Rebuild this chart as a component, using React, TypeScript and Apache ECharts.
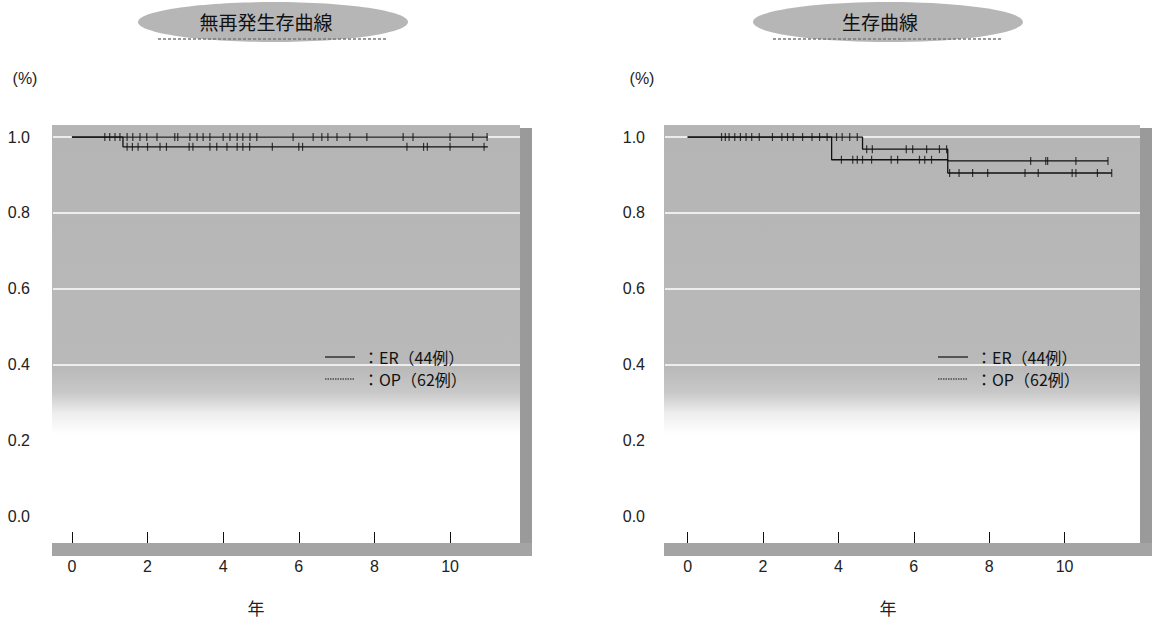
import React, { useEffect, useRef } from "react";
import * as echarts from "echarts";

// ---- data ----
const yearTicks = [0, 2, 4, 6, 8, 10];
const survivalTicks = [0, 0.2, 0.4, 0.6, 0.8, 1.0];
const gridLineValues = [0.2, 0.4, 0.6, 0.8, 1.0];
const panelTitles = ["無再発生存曲線", "生存曲線"];
const legendLabels = ["：ER（44例）", "：OP（62例）"];
const unitLabel = "(%)";
const xAxisName = "年";

// 無再発生存 (relapse-free survival) – step points [year, survival]
const rfsErSteps = [[0, 1.0], [11.0, 1.0]];
const rfsOpSteps = [[0, 1.0], [1.35, 0.974], [11.0, 0.974]];
const rfsErCensor = [0.87, 1.0, 1.14, 1.27, 1.46, 1.61, 1.8, 1.98, 2.25, 2.72, 2.8, 3.12, 3.31, 3.47, 3.65, 4.0, 4.18, 4.37, 4.52, 4.71, 4.89, 5.85, 6.38, 6.61, 6.77, 7.01, 7.35, 7.8, 8.76, 9.02, 10.0, 10.6, 10.98];
const rfsOpCensor = [1.46, 1.6, 1.75, 2.0, 2.33, 2.5, 3.1, 3.2, 3.65, 3.83, 4.1, 4.37, 4.52, 4.7, 5.3, 6.0, 6.1, 8.86, 9.3, 9.4, 10.0, 10.9];

// 生存 (overall survival)
const osErSteps = [[0, 1.0], [4.64, 0.968], [6.9, 0.937], [11.15, 0.937]];
const osOpSteps = [[0, 1.0], [3.82, 0.94], [6.9, 0.905], [11.25, 0.905]];
const osErCensor = [0.9, 1.0, 1.1, 1.25, 1.4, 1.55, 1.7, 1.9, 2.25, 2.5, 2.65, 2.8, 3.05, 3.3, 3.5, 3.7, 3.95, 4.1, 4.3, 4.5, 4.75, 4.9, 5.8, 5.97, 6.34, 6.68, 6.87, 9.1, 9.5, 9.55, 10.3, 11.15];
const osOpCensor = [4.08, 4.38, 4.5, 4.64, 4.88, 5.4, 5.57, 6.15, 6.29, 6.47, 6.95, 7.2, 7.56, 7.96, 8.95, 9.3, 10.2, 10.3, 10.87, 11.25];

// ---- helpers ----
function valueAt(steps: number[][], t: number): number {
  let v = steps[0][1];
  for (const s of steps) {
    if (s[0] <= t) v = s[1];
  }
  return v;
}
function censorPoints(steps: number[][], times: number[]) {
  return times.map((t) => [t, valueAt(steps, t)]);
}

const NUM_FONT = "'Liberation Sans', Arial, sans-serif";
const CJK_FONT = "'Noto Sans CJK JP', 'Liberation Sans', sans-serif";

const panels = [
  { left: 53, xMin: -0.5, xMax: 11.85, right: 520, panelLeft: 52, labelMargin: 23, titleX: 266, blobX: 273, unitX: 25, nameX: 256, legendX: 325,
    er: rfsErSteps, op: rfsOpSteps, erC: rfsErCensor, opC: rfsOpCensor },
  { left: 665, xMin: -0.6, xMax: 12.0, right: 1140, panelLeft: 664, labelMargin: 20, titleX: 880, blobX: 888, unitX: 642, nameX: 888, legendX: 938,
    er: osErSteps, op: osOpSteps, erC: osErCensor, opC: osOpCensor },
];

export default function App() {
  const ref = useRef<HTMLDivElement>(null);
  useEffect(() => {
    document.body.style.margin = "0";
    if (!ref.current) return;
    const chart = echarts.init(ref.current, null, { renderer: "svg" });

    const GRID_TOP = 137;
    const GRID_H = 406; // 1.0 at y=137, 0.0 at y=516, axis at y=543
    const Y_MIN = -27 / 379;

    const grids: any[] = [];
    const xAxes: any[] = [];
    const yAxes: any[] = [];
    const series: any[] = [];
    const graphics: any[] = [];

    panels.forEach((p, i) => {
      grids.push({ left: p.left, top: GRID_TOP, width: p.right - p.left, height: GRID_H, containLabel: false, outerBoundsMode: "none" });
      xAxes.push({
        type: "value", gridIndex: i, min: p.xMin, max: p.xMax,
        axisLine: { show: false, onZero: false },
        axisTick: { show: true, inside: true, length: 11, customValues: yearTicks, lineStyle: { color: "#111", width: 1 } },
        axisLabel: { customValues: yearTicks, margin: 15, fontSize: 16, color: "#222", fontFamily: NUM_FONT },
        splitLine: { show: false },
      });
      yAxes.push({
        type: "value", gridIndex: i, min: Y_MIN, max: 1,
        axisLine: { show: false, onZero: false }, axisTick: { show: false },
        axisLabel: { customValues: survivalTicks, margin: p.labelMargin, fontSize: 16, color: "#222", fontFamily: NUM_FONT, formatter: (v: number) => v.toFixed(1) },
        splitLine: { show: false },
      });
      const stepLine = (name: string, data: number[][], withGrid: boolean) => ({
        type: "line", name, xAxisIndex: i, yAxisIndex: i, data, step: "end", showSymbol: false, symbol: "none",
        lineStyle: { color: "#111", width: 1.3 }, z: 3,
        markLine: withGrid ? {
          silent: true, symbol: "none", label: { show: false }, z: 1,
          lineStyle: { color: "#ffffff", width: 1.5, type: "solid" },
          data: gridLineValues.map((v) => ({ yAxis: v })),
        } : undefined,
      });
      const censor = (name: string, data: number[][]) => ({
        type: "scatter", name, xAxisIndex: i, yAxisIndex: i, data, symbol: "rect", symbolSize: [1.2, 8],
        itemStyle: { color: "#111" }, z: 4,
      });
      series.push(stepLine("ER", p.er, true), stepLine("OP", p.op, false));
      series.push(censor("ER censored", censorPoints(p.er, p.erC)), censor("OP censored", censorPoints(p.op, p.opC)));

      // panel background
      graphics.push({
        type: "rect", z: -10, shape: { x: p.panelLeft, y: 125, width: p.right - p.panelLeft, height: 418 },
        style: {
          fill: new echarts.graphic.LinearGradient(0, 0, 0, 1, [
            { offset: 0, color: "#b5b5b5" },
            { offset: 0.58, color: "#b9b9b9" },
            { offset: 0.64, color: "#c8c8c8" },
            { offset: 0.69, color: "#eeeeee" },
            { offset: 0.74, color: "#ffffff" },
            { offset: 1, color: "#ffffff" },
          ]),
        },
      });
      // right shadow
      graphics.push({ type: "rect", z: -9, shape: { x: p.right, y: 128, width: 12, height: 428 }, style: { fill: "#9a9a9a" } });
      // bottom bar
      graphics.push({ type: "rect", z: -9, shape: { x: p.panelLeft, y: 543, width: p.right + 12 - p.panelLeft, height: 13 }, style: { fill: "#a4a4a4" } });
      // title blob
      graphics.push({ type: "ellipse", z: -9, shape: { cx: p.blobX, cy: 22, rx: 135, ry: 20 }, style: { fill: "#b6b6b6" } });
      graphics.push({ type: "line", z: -8, shape: { x1: p.blobX - 115, y1: 39, x2: p.blobX + 115, y2: 39 }, style: { stroke: "#7a7a7a", lineWidth: 1.5, lineDash: [3, 2] } });
      graphics.push({ type: "text", z: 10, x: p.titleX, y: 21, style: { text: panelTitles[i], font: `19px ${CJK_FONT}`, fill: "#111", align: "center", verticalAlign: "middle" } });
      // unit
      graphics.push({ type: "text", z: 10, x: p.unitX, y: 78, style: { text: unitLabel, font: `16px ${NUM_FONT}`, fill: "#222", align: "center", verticalAlign: "middle" } });
      // x axis name
      graphics.push({ type: "text", z: 10, x: p.nameX, y: 607, style: { text: xAxisName, font: `17px ${CJK_FONT}`, fill: "#222", align: "center", verticalAlign: "middle" } });
      // legend
      [357, 379].forEach((ly, k) => {
        graphics.push({ type: "line", z: 10, shape: { x1: p.legendX, y1: ly, x2: p.legendX + 30, y2: ly },
          style: { stroke: "#111", lineWidth: 1.2, lineDash: k === 1 ? [1.5, 1] : undefined } });
        graphics.push({ type: "text", z: 10, x: p.legendX + 38, y: ly, style: { text: legendLabels[k], font: `16px ${CJK_FONT}`, fill: "#111", align: "left", verticalAlign: "middle" } });
      });
    });

    chart.setOption({
      animation: false,
      backgroundColor: "#ffffff",
      grid: grids,
      xAxis: xAxes,
      yAxis: yAxes,
      series,
      graphic: graphics,
    });
    return () => chart.dispose();
  }, []);
  return <div ref={ref} style={{ width: 1155, height: 621 }} />;
}
